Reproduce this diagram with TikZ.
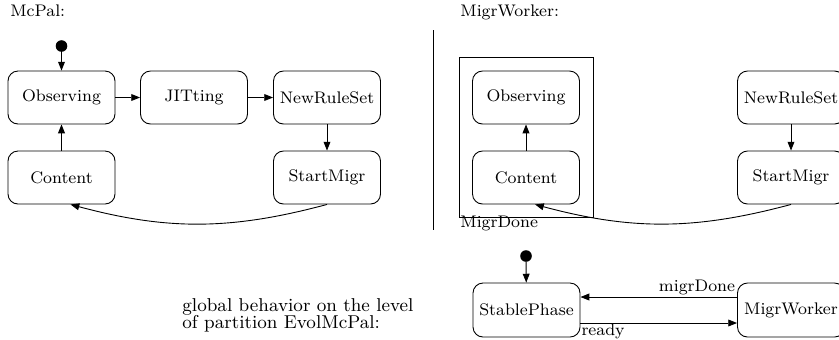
\documentclass[tikz,border=0pt]{standalone}
\usetikzlibrary{arrows.meta,calc}
\newcommand\lblfont{\fontsize{8.4}{10}\selectfont}
\newcommand\globfont{\fontsize{9.3}{8.6}\selectfont}
\begin{document}
\begin{tikzpicture}[x=0.5pt,y=0.5pt,
  state/.style={draw, rounded corners=5pt, minimum width=53.5pt, minimum height=26.5pt, inner sep=0pt, line width=0.45pt, font=\lblfont},
  initdot/.style={circle, fill=black, minimum size=5.8pt, inner sep=0pt},
  arr/.style={-{Triangle[length=4.4pt,width=3.4pt]}, line width=0.45pt},
  lbl/.style={font=\lblfont, inner sep=0pt}]
\useasboundingbox (0,0) rectangle (839,-339);
% ---- McPal
\node[lbl, anchor=base west] (t1) at (10,-16) {McPal:};
\node[initdot] (i1) at (61.5,-46) {};
\node[state] (obs1) at (61.5,-97.5) {Observing};
\node[state] (jit1) at (194,-97.5) {JITting};
\node[state] (nrs1) at (327,-97.5) {NewRuleSet};
\node[state] (con1) at (61.5,-177.5) {Content};
\node[state] (sm1) at (327,-177.5) {StartMigr};
\draw[arr] (i1) -- (obs1);
\draw[arr] (obs1) -- (jit1);
\draw[arr] (jit1) -- (nrs1);
\draw[arr] (nrs1) -- (sm1);
\draw[arr] (con1) -- (obs1);
\draw[arr] (sm1.south) to[out=195,in=-15] ($(con1.south)+(9,0)$);
% ---- MigrWorker
\node[lbl, anchor=base west] (t2) at (460,-16) {MigrWorker:};
\coordinate (vt) at (433,-30);
\coordinate (vb) at (433,-230);
\draw[line width=0.45pt] (vt) -- (vb);
\node[draw, line width=0.45pt, minimum width=67pt, minimum height=80pt, inner sep=0pt] (done) at (526,-137) {};
\node[lbl, anchor=base west] (donelbl) at (460,-227) {MigrDone};
\node[state] (obs2) at (526,-97.5) {Observing};
\node[state] (con2) at (526,-177.5) {Content};
\node[state] (nrs2) at (791,-97.5) {NewRuleSet};
\node[state] (sm2) at (791,-177.5) {StartMigr};
\draw[arr] (con2) -- (obs2);
\draw[arr] (nrs2) -- (sm2);
\draw[arr] (sm2.south) to[out=195,in=-15] ($(con2.south)+(9,0)$);
% ---- global
\node[inner sep=0pt, anchor=north west, align=left, font=\globfont] (glob) at (182,-298) {global behavior on the level\\of partition EvolMcPal:};
\node[initdot] (i3) at (526,-256) {};
\node[state, minimum height=27pt] (sp) at (526.5,-310) {StablePhase};
\node[state, minimum height=27pt] (mw) at (791,-310) {MigrWorker};
\draw[arr] (i3) -- (sp);
\draw[arr] ($(mw.west)+(0,13)$) -- node[pos=0, above left, lbl, inner sep=0.8pt] {migrDone} ($(sp.east)+(0,13)$);
\draw[arr] ($(sp.east)+(0,-13)$) -- node[pos=0, below right, lbl, inner sep=0.3pt] {ready} ($(mw.west)+(0,-13)$);
\end{tikzpicture}
\end{document}
